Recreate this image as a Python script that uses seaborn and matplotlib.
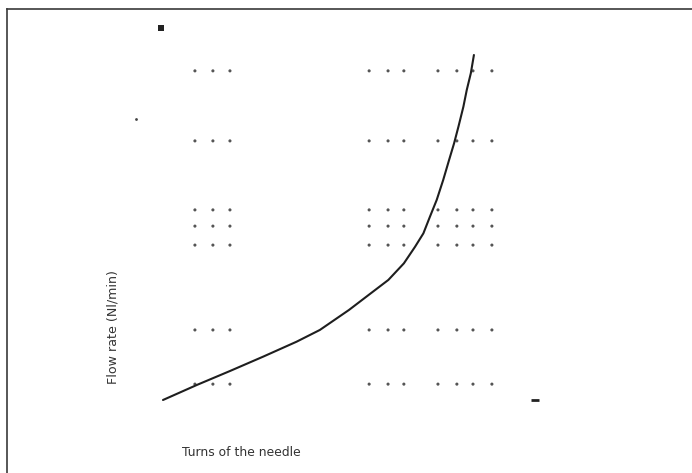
import numpy as np
import pandas as pd
import matplotlib
matplotlib.use('Agg')
import matplotlib.pyplot as plt
import seaborn as sns

# flow curve (turns of the needle vs flow, arbitrary units)
turns = [0, 1.09, 2.16, 3.24, 4.31, 5.06, 6.0, 6.7, 7.27, 7.77, 8.13, 8.4, 8.61,
         8.83, 9.04, 9.23, 9.39, 9.53, 9.69, 9.8, 9.93, 10.03]
flow = [0, 4.35, 8.4, 12.6, 16.9, 20.3, 26.1, 30.9, 34.8, 39.6, 44.4, 48.3, 53.1,
        58.0, 63.8, 69.6, 74.4, 79.2, 85.0, 89.9, 94.7, 100.0]

# dotted grid fragments
grid_turns = [1.03, 1.61, 2.16, 6.65, 7.26, 7.77, 8.87, 9.48, 10.0, 10.61]
grid_flow = [95.4, 75.1, 55.1, 50.4, 44.9, 20.3, 4.6]

# stray marks from the scan
stray_turns = [-0.06, -0.87, 12.0]
stray_flow = [107.8, 81.4, 0.0]

sns.set_theme(style='white')
plt.rcParams['font.family'] = ['DejaVu Sans']

W, H = 692, 473
fig = plt.figure(figsize=(W / 100, H / 100), dpi=100)
ax = fig.add_axes([7 / W, 0, 685 / W, 464 / H])

gx, gy = np.meshgrid(grid_turns, grid_flow)
grid_df = pd.DataFrame({'turns': gx.ravel(), 'flow': gy.ravel()})
sns.scatterplot(data=grid_df, x='turns', y='flow', ax=ax, s=5, color='#555555',
                edgecolor='none', zorder=2)

curve_df = pd.DataFrame({'turns': turns, 'flow': flow})
sns.lineplot(data=curve_df, x='turns', y='flow', ax=ax, color='#1e1e1e',
             linewidth=1.5, estimator=None, sort=False, zorder=3)

ax.scatter(stray_turns[0], stray_flow[0], marker='s', s=16, color='#222222', lw=0)
ax.scatter(stray_turns[1], stray_flow[1], marker='o', s=4, color='#444444', lw=0)
ax.scatter(stray_turns[2], stray_flow[2], marker='_', s=40, color='#222222', lw=2)

ax.set_xlim(-5.032, 17.065)
ax.set_ylim(-21.16, 113.33)
ax.set_xticks([])
ax.set_yticks([])
ax.set_xlabel('')
ax.set_ylabel('')
for side in ['right', 'bottom']:
    ax.spines[side].set_visible(False)
for side in ['left', 'top']:
    ax.spines[side].set_color('#3a3a3a')
    ax.spines[side].set_linewidth(1.2)

xl = fig.text(241 / W, 1 - 452 / H, 'Turns of the needle', ha='center', va='center',
              fontsize=10, color='#333333')
yl = fig.text(113 / W, 1 - 327 / H, 'Flow rate (Nl/min)', ha='center', va='center',
              rotation=90, fontsize=10, color='#333333')

# shrink labels to the width they take in the scan
fig.canvas.draw()
r = fig.canvas.get_renderer()
xl.set_fontsize(10 * 118 / xl.get_window_extent(r).width)
yl.set_fontsize(10 * 113 / yl.get_window_extent(r).height)

fig.savefig('out.png', dpi=100)
